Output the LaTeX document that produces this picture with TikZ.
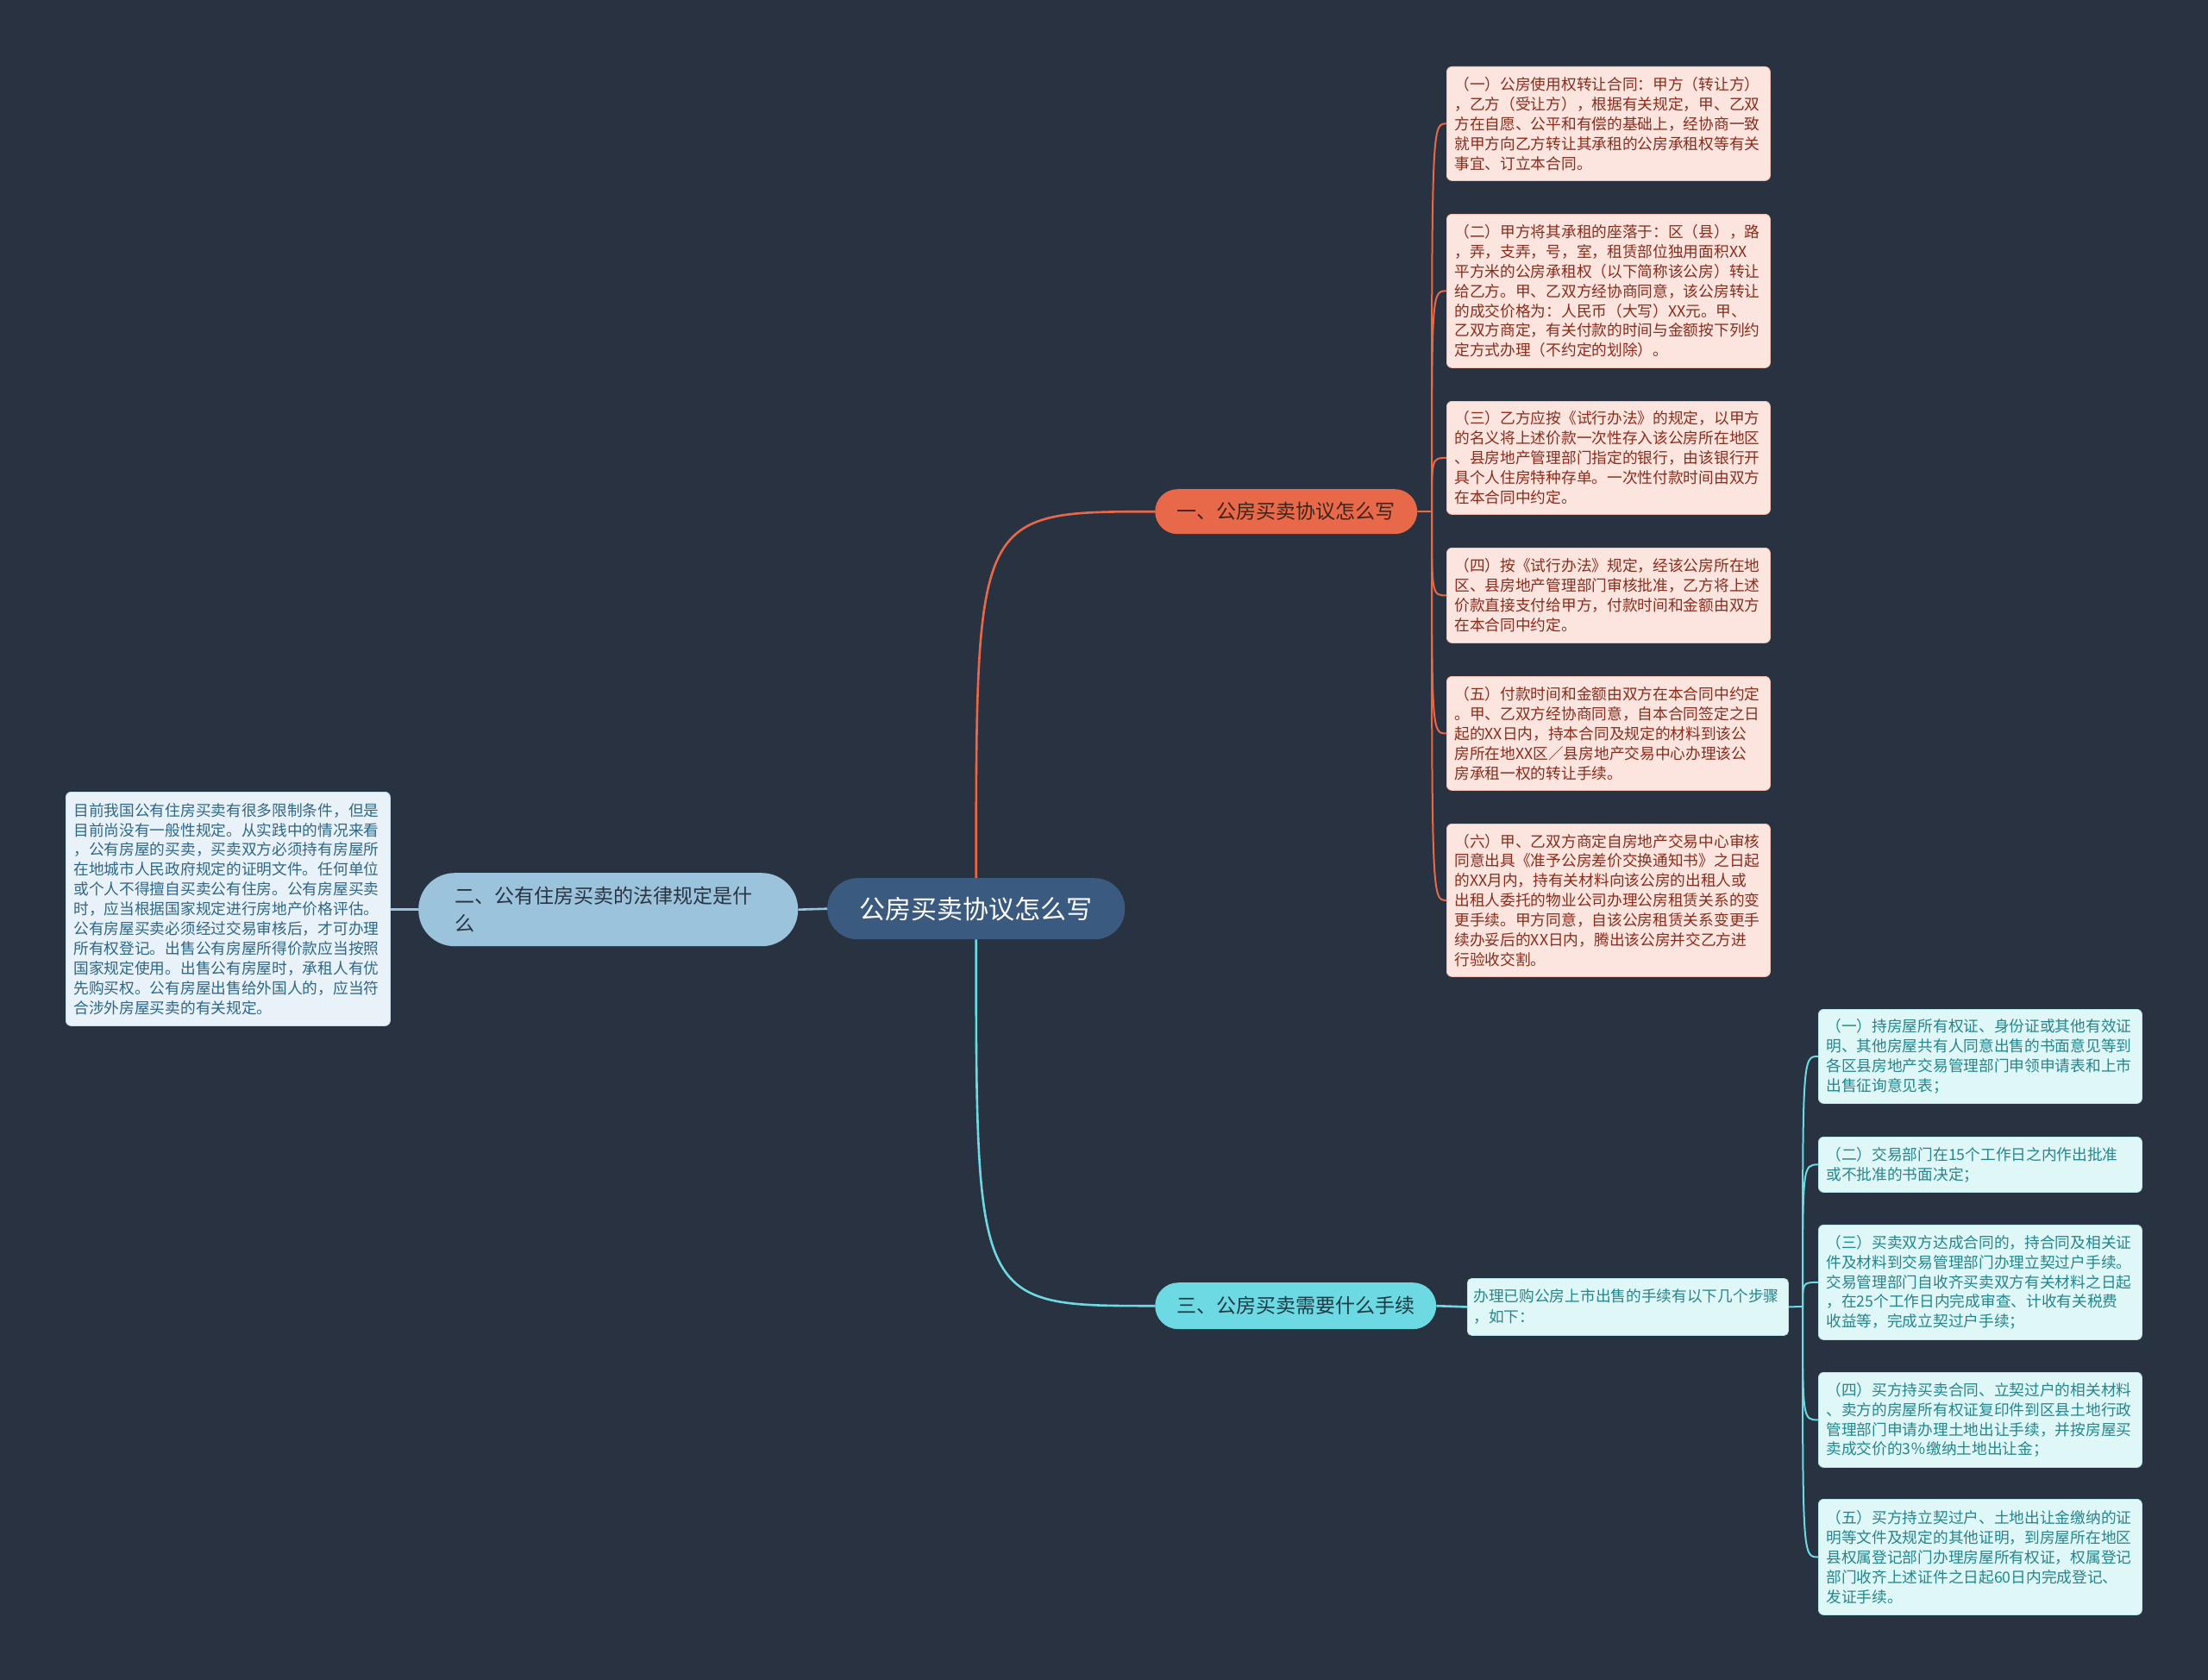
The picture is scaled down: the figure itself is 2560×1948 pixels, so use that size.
\documentclass[tikz,border=0pt]{standalone}
\usepackage{fontspec}
\setmainfont{Noto Sans CJK SC}
\usetikzlibrary{calc}
\definecolor{bg}{HTML}{293240}
\definecolor{cfill}{HTML}{3B5A80}
\definecolor{rnode}{HTML}{E8684A}
\definecolor{rtext}{HTML}{3E2419}
\definecolor{rleaf}{HTML}{FDE5DF}
\definecolor{rleafb}{HTML}{F3C2B5}
\definecolor{rleaft}{HTML}{8A2C1C}
\definecolor{bnode}{HTML}{9CC3DC}
\definecolor{btext}{HTML}{2A3441}
\definecolor{bleaf}{HTML}{E8F2F8}
\definecolor{bleafb}{HTML}{C5DCEB}
\definecolor{bleaft}{HTML}{2F6788}
\definecolor{cnode}{HTML}{6CD9E3}
\definecolor{ctext}{HTML}{1E3A44}
\definecolor{cleaf}{HTML}{E0F7F8}
\definecolor{cleafb}{HTML}{B5E6EA}
\definecolor{cleaft}{HTML}{24868C}
\tikzset{
  leafbase/.style={rounded corners=6pt, line width=0.8pt, align=left,
    font=\fontsize{17.7pt}{22.9pt}\selectfont, text width=357pt,
    inner xsep=9pt, inner ysep=0pt, anchor=north west},
  leafR/.style={leafbase, draw=rleafb, fill=rleaf, text=rleaft},
  leafB/.style={leafbase, draw=bleafb, fill=bleaf, text=bleaft},
  leafC/.style={leafbase, draw=cleafb, fill=cleaf, text=cleaft},
  rootnode/.style={fill=cfill, text=white, rounded corners=35pt, anchor=north west,
    minimum width=345pt, minimum height=71pt, inner sep=0pt,
    font=\fontsize{30pt}{36pt}\selectfont},
  brR/.style={fill=rnode, text=rtext, rounded corners=26pt, anchor=north west,
    minimum width=304pt, minimum height=52pt, inner sep=0pt,
    font=\fontsize{23pt}{28pt}\selectfont},
  brB/.style={fill=bnode, text=btext, rounded corners=42pt, anchor=north west,
    minimum width=440pt, minimum height=85pt, inner ysep=0pt, inner xsep=0pt,
    text width=356pt, align=left,
    font=\fontsize{23pt}{32pt}\selectfont},
  brC/.style={fill=cnode, text=ctext, rounded corners=27pt, anchor=north west,
    minimum width=326pt, minimum height=54pt, inner sep=0pt,
    font=\fontsize{23pt}{28pt}\selectfont},
  midC/.style={fill=cleaf, draw=cleafb, line width=0.8pt, text=cleaft, rounded corners=5pt,
    anchor=north west, minimum width=372pt, minimum height=66pt, inner ysep=0pt,
    inner xsep=7pt, text width=358pt, align=left,
    font=\fontsize{17.7pt}{24pt}\selectfont},
  lnR/.style={draw=rnode, line width=2.6pt},
  lnRs/.style={draw=rnode, line width=2pt},
  lnB/.style={draw=bnode, line width=2.6pt},
  lnC/.style={draw=cnode, line width=2.6pt},
  lnCs/.style={draw=cnode, line width=2pt},
}
\begin{document}
\begin{tikzpicture}[x=1pt,y=-1pt]
\fill[bg] (0,0) rectangle (2560,1948);
\useasboundingbox (0,0) rectangle (2560,1948);

% nodes
\node[rootnode] (c) at (959,1018) {公房买卖协议怎么写};
\node[brR] (b1) at (1339,567) {一、公房买卖协议怎么写};
\node[brB] (b2) at (485,1012) {二、公有住房买卖的法律规定是什\\么};
\node[brC] (b3) at (1339,1487) {三、公房买卖需要什么手续};

\node[leafR, minimum height=132pt] (a1) at (1677,77) {（一）公房使用权转让合同：甲方（转让方）\\，乙方（受让方），根据有关规定，甲、乙双\\方在自愿、公平和有偿的基础上，经协商一致\\就甲方向乙方转让其承租的公房承租权等有关\\事宜、订立本合同。};
\node[leafR, minimum height=178pt] (a2) at (1677,248) {（二）甲方将其承租的座落于：区（县），路\\，弄，支弄，号，室，租赁部位独用面积XX\\平方米的公房承租权（以下简称该公房）转让\\给乙方。甲、乙双方经协商同意，该公房转让\\的成交价格为：人民币（大写）XX元。甲、\\乙双方商定，有关付款的时间与金额按下列约\\定方式办理（不约定的划除）。};
\node[leafR, minimum height=131pt] (a3) at (1677,465) {（三）乙方应按《试行办法》的规定，以甲方\\的名义将上述价款一次性存入该公房所在地区\\、县房地产管理部门指定的银行，由该银行开\\具个人住房特种存单。一次性付款时间由双方\\在本合同中约定。};
\node[leafR, minimum height=110pt] (a4) at (1677,635) {（四）按《试行办法》规定，经该公房所在地\\区、县房地产管理部门审核批准，乙方将上述\\价款直接支付给甲方，付款时间和金额由双方\\在本合同中约定。};
\node[leafR, minimum height=132pt] (a5) at (1677,784) {（五）付款时间和金额由双方在本合同中约定\\。甲、乙双方经协商同意，自本合同签定之日\\起的XX日内，持本合同及规定的材料到该公\\房所在地XX区／县房地产交易中心办理该公\\房承租一权的转让手续。};
\node[leafR, minimum height=177pt] (a6) at (1677,955) {（六）甲、乙双方商定自房地产交易中心审核\\同意出具《准予公房差价交换通知书》之日起\\的XX月内，持有关材料向该公房的出租人或\\出租人委托的物业公司办理公房租赁关系的变\\更手续。甲方同意，自该公房租赁关系变更手\\续办妥后的XX日内，腾出该公房并交乙方进\\行验收交割。};

\node[leafB, minimum height=271pt, text width=358pt] (l2) at (76,918) {目前我国公有住房买卖有很多限制条件，但是\\目前尚没有一般性规定。从实践中的情况来看\\，公有房屋的买卖，买卖双方必须持有房屋所\\在地城市人民政府规定的证明文件。任何单位\\或个人不得擅自买卖公有住房。公有房屋买卖\\时，应当根据国家规定进行房地产价格评估。\\公有房屋买卖必须经过交易审核后，才可办理\\所有权登记。出售公有房屋所得价款应当按照\\国家规定使用。出售公有房屋时，承租人有优\\先购买权。公有房屋出售给外国人的，应当符\\合涉外房屋买卖的有关规定。};

\node[midC] (m) at (1701,1482) {办理已购公房上市出售的手续有以下几个步骤\\，如下：};

\node[leafC, minimum height=109pt] (s1) at (2108,1170) {（一）持房屋所有权证、身份证或其他有效证\\明、其他房屋共有人同意出售的书面意见等到\\各区县房地产交易管理部门申领申请表和上市\\出售征询意见表；};
\node[leafC, minimum height=64pt] (s2) at (2108,1318) {（二）交易部门在15个工作日之内作出批准\\或不批准的书面决定；};
\node[leafC, minimum height=133pt] (s3) at (2108,1420) {（三）买卖双方达成合同的，持合同及相关证\\件及材料到交易管理部门办理立契过户手续。\\交易管理部门自收齐买卖双方有关材料之日起\\，在25个工作日内完成审查、计收有关税费\\收益等，完成立契过户手续；};
\node[leafC, minimum height=110pt] (s4) at (2108,1591) {（四）买方持买卖合同、立契过户的相关材料\\、卖方的房屋所有权证复印件到区县土地行政\\管理部门申请办理土地出让手续，并按房屋买\\卖成交价的3％缴纳土地出让金；};
\node[leafC, minimum height=134pt] (s5) at (2108,1738) {（五）买方持立契过户、土地出让金缴纳的证\\明等文件及规定的其他证明，到房屋所在地区\\县权属登记部门办理房屋所有权证，权属登记\\部门收齐上述证件之日起60日内完成登记、\\发证手续。};

% trunks
\coordinate (t1) at (1660,593);
\coordinate (t3) at (2090,1515);

% connectors
\draw[lnR] (c.north) .. controls (c.north |- b1.west) and (c.north |- b1.west) .. (b1.west);
\draw[lnC] (c.south) .. controls (c.south |- b3.west) and (c.south |- b3.west) .. (b3.west);
\draw[lnB] (c.west) -- (b2.east);
\draw[lnB] (b2.west) -- (l2.east |- b2.west);
\draw[lnC] (b3.east) -- (m.west);
\draw[lnRs] (b1.east) -- (t1);
\draw[lnCs] (m.east) -- (t3);
\foreach \n in {a1,a2,a3,a4,a5,a6}
  \draw[lnRs] (t1) .. controls (t1 |- \n.west) and (t1 |- \n.west) .. (\n.west);
\foreach \n in {s1,s2,s3,s4,s5}
  \draw[lnCs] (t3) .. controls (t3 |- \n.west) and (t3 |- \n.west) .. (\n.west);
\end{tikzpicture}
\end{document}
